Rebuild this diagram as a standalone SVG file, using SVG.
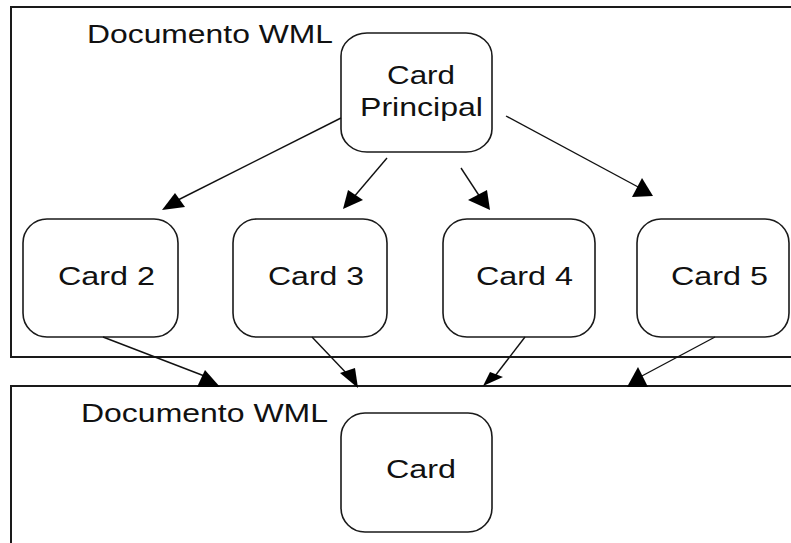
<svg xmlns="http://www.w3.org/2000/svg" width="791" height="543" viewBox="0 0 791 543">
<style>
.frame{fill:none;stroke:#1a1a1a;stroke-width:2}
.node{fill:#fff;stroke:#1a1a1a;stroke-width:1.6}
.t{font-family:"Liberation Sans",Arial,sans-serif;font-size:26px;fill:#111}
.edge{stroke:#111;stroke-width:1.4;fill:none}
.head{fill:#000;stroke:none}
</style>
<rect width="791" height="543" fill="#fff"/>
<g id="doc-top">
<rect class="frame" x="11" y="7" width="800" height="350"/>
<text class="t" x="87" y="43" textLength="246" lengthAdjust="spacingAndGlyphs">Documento WML</text>
</g>
<g id="doc-bottom">
<rect class="frame" x="11" y="386" width="800" height="180"/>
<text class="t" x="81" y="422" textLength="247" lengthAdjust="spacingAndGlyphs">Documento WML</text>
</g>
<g id="card-principal">
<rect class="node" x="341" y="33" width="151" height="119" rx="26" ry="23"/>
<text class="t" x="387" y="84" textLength="68" lengthAdjust="spacingAndGlyphs">Card</text>
<text class="t" x="360" y="116" textLength="123" lengthAdjust="spacingAndGlyphs">Principal</text>
</g>
<g id="card2">
<rect class="node" x="23" y="219" width="155" height="118" rx="24" ry="24"/>
<text class="t" x="58" y="285" textLength="97" lengthAdjust="spacingAndGlyphs">Card 2</text>
</g>
<g id="card3">
<rect class="node" x="233" y="219" width="154" height="118" rx="24" ry="24"/>
<text class="t" x="268" y="285" textLength="96" lengthAdjust="spacingAndGlyphs">Card 3</text>
</g>
<g id="card4">
<rect class="node" x="443" y="219" width="152" height="118" rx="24" ry="24"/>
<text class="t" x="476" y="285" textLength="97" lengthAdjust="spacingAndGlyphs">Card 4</text>
</g>
<g id="card5">
<rect class="node" x="637" y="219" width="152" height="118" rx="24" ry="24"/>
<text class="t" x="671" y="285" textLength="97" lengthAdjust="spacingAndGlyphs">Card 5</text>
</g>
<g id="card">
<rect class="node" x="341" y="413" width="151" height="119" rx="24" ry="24"/>
<text class="t" x="386" y="478" textLength="70" lengthAdjust="spacingAndGlyphs">Card</text>
</g>
<g id="connectors">
<line class="edge" x1="341" y1="118" x2="178" y2="200"/>
<polygon class="head" points="175,193 162,210 185,207"/>
<line class="edge" x1="387" y1="158" x2="353" y2="198"/>
<polygon class="head" points="343,209 348,190 363,200"/>
<line class="edge" x1="461" y1="168" x2="480" y2="197"/>
<polygon class="head" points="468,200 487,190 490,210"/>
<line class="edge" x1="506" y1="116" x2="640" y2="188"/>
<polygon class="head" points="642,178 632,197 653,196"/>
<line class="edge" x1="103" y1="337" x2="207" y2="377"/>
<polygon class="head" points="205,370 197,387 220,387"/>
<line class="edge" x1="312" y1="337" x2="350" y2="377"/>
<polygon class="head" points="340,373 355,368 358,388"/>
<line class="edge" x1="525" y1="337" x2="495" y2="376"/>
<polygon class="head" points="483,386 490,372 503,377"/>
<line class="edge" x1="715" y1="337" x2="640" y2="377"/>
<polygon class="head" points="638,367 627,387 648,387"/>
</g>
</svg>
